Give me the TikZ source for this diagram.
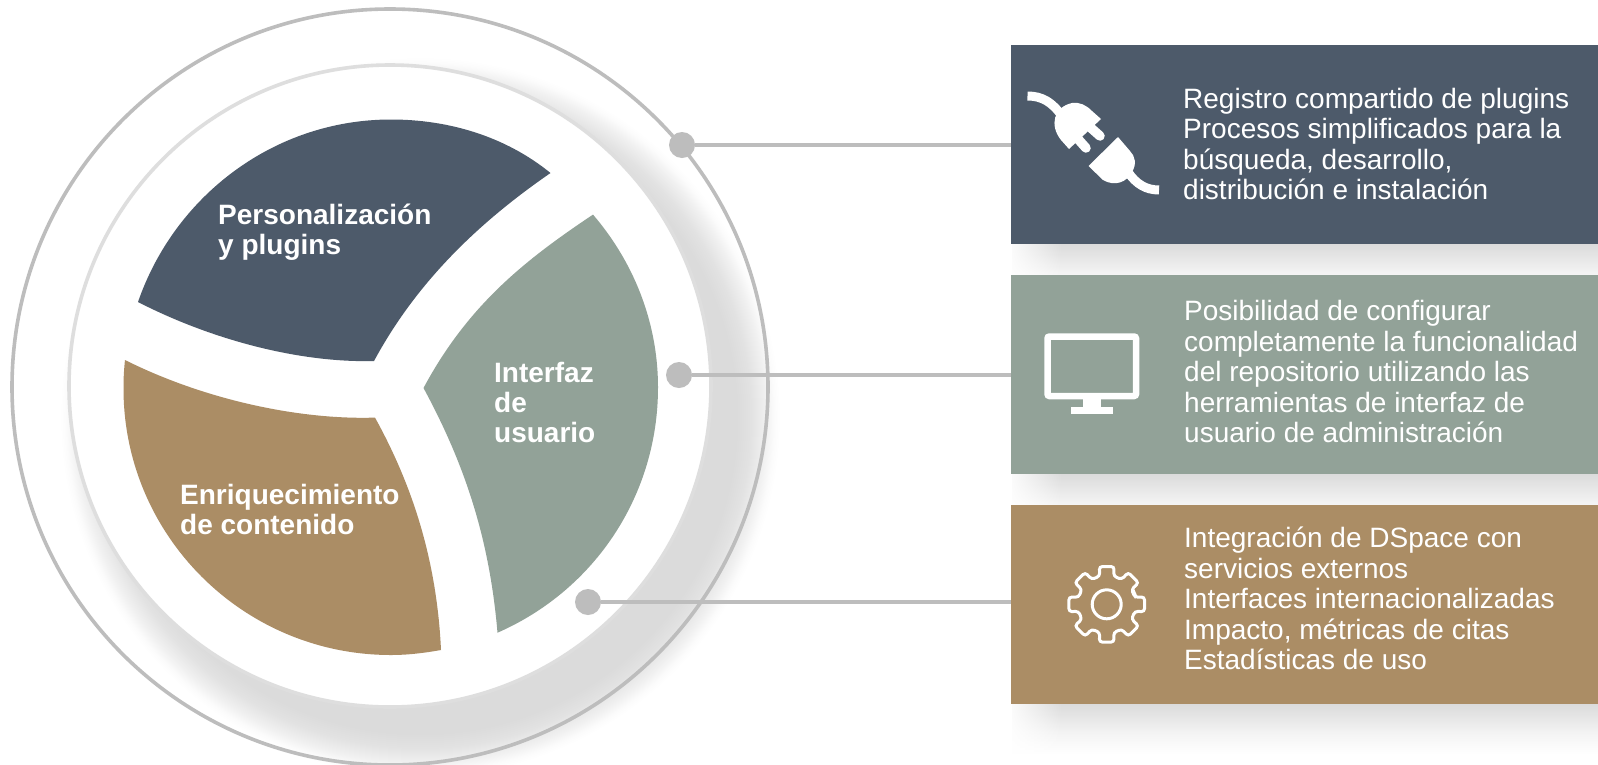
\documentclass[tikz,border=0pt]{standalone}
\usepackage{fontspec}
\setmainfont{Liberation Sans}
\usetikzlibrary{fadings}
\definecolor{navy}{HTML}{4D5A6A}
\definecolor{sage}{HTML}{92A298}
\definecolor{tan}{HTML}{AB8D65}
\definecolor{ringA}{HTML}{BDBDBD}
\definecolor{ringB}{HTML}{DEDEDE}
\definecolor{shadowC}{HTML}{DBDBDB}
\pgfdeclareradialshading{discshadow}{\pgfpointorigin}{%
  color(0bp)=(shadowC);color(22bp)=(shadowC);color(23bp)=(shadowC!80!white);
  color(24bp)=(shadowC!40!white);color(24.6bp)=(shadowC!10!white);color(25bp)=(white);color(50bp)=(white)}
\pgfdeclareverticalshading{boxshadow}{100bp}{%
  color(0bp)=(white);color(25bp)=(white);color(45bp)=(shadowC!30!white);color(75bp)=(shadowC);color(100bp)=(shadowC)}
\tikzset{
  bx/.style={rectangle,minimum width=587pt,minimum height=199pt,inner sep=0pt,outer sep=0pt,anchor=north west},
  segment/.style={rectangle,inner sep=0pt,anchor=base west,font=\fontsize{28}{29.8}\selectfont\bfseries,text=white,align=left},
  boxtext/.style={inner sep=0pt,anchor=north west,font=\fontsize{28}{30.4}\selectfont,text=white,align=left},
  dot/.style={circle,fill=ringA,minimum size=26pt,inner sep=0pt,outer sep=0pt},
  conn/.style={draw=ringA,line width=3.2pt},
  ico/.style={fill=white,draw=none},
  icoline/.style={draw=white,fill=none}
}
\begin{document}
\begin{tikzpicture}[x=1pt,y=-1pt]
\clip (0,0) rectangle (1598,764);
\fill[white] (0,0) rectangle (1598,764);
% disc shadow
\shade[shading=discshadow] (420,417) circle (360);
% box shadows
\foreach \t in {244,474,704}{
  \shade[shading=boxshadow] (1012,\t) rectangle (1598,\t+50);
  \fill[white,path fading=east] (1005,\t) rectangle (1062,\t+50);
}
% rings
\draw[ringA,line width=3.6pt] (390,387) circle (378);
\fill[white] (390,386) circle (321);
\draw[ringB,line width=3.6pt] (390,386) circle (321);
% segments
\fill[navy] (138,302) .. controls (212,340) and (300,363) .. (374,361) .. controls (415,285) and (475,225) .. (550.5,173)
  .. controls (505,136) and (448,119.5) .. (391,119.5) .. controls (275,119.5) and (175,195) .. (138,302) -- cycle;
\fill[sage] (423.5,388) .. controls (468,305) and (525,260) .. (593,214.6)
  .. controls (632,260) and (658,320) .. (658,387.5) .. controls (658,495) and (595,590) .. (497.5,632.7)
  .. controls (490,545) and (468,470) .. (423.5,388) -- cycle;
\fill[tan] (125,360) .. controls (205,400) and (300,420) .. (375,417.6)
  .. controls (415,490) and (437,565) .. (441,650)
  .. controls (424,653) and (408,655) .. (391,655) .. controls (243,655) and (123,535) .. (123.5,387.5) .. controls (123.5,378) and (124,369) .. (125,360) -- cycle;
% segment labels
\node[segment] (lbla) at (218,254) {Personalización\\y plugins};
\node[segment] (lblb) at (494,442) {Interfaz\\de\\usuario};
\node[segment] (lblc) at (180,534) {Enriquecimiento\\de contenido};
% boxes
\node[bx,fill=navy] (box1) at (1011,45) {};
\node[bx,fill=sage] (box2) at (1011,275) {};
\node[bx,fill=tan] (box3) at (1011,505) {};
% dots and connectors
\node[dot] (d1) at (682,145) {};
\node[dot] (d2) at (679,375) {};
\node[dot] (d3) at (588,602) {};
\draw[conn] (d1) -- (d1 -| box1.west);
\draw[conn] (d2) -- (d2 -| box2.west);
\draw[conn] (d3) -- (d3 -| box3.west);
% box texts
\node[boxtext] (t1) at (1183,88) {Registro compartido de plugins\\Procesos simplificados para la\\búsqueda, desarrollo,\\distribución e instalación};
\node[boxtext] (t2) at (1184,300.5) {Posibilidad de configurar\\completamente la funcionalidad\\del repositorio utilizando las\\herramientas de interfaz de\\usuario de administración};
\node[boxtext] (t3) at (1184,527) {Integración de DSpace con\\servicios externos\\Interfaces internacionalizadas\\Impacto, métricas de citas\\Estadísticas de uso};
% plug icon
\draw[icoline,line width=9pt] (1027.5,96) .. controls (1042,96) and (1052,102) .. (1062,116);
\fill[ico] (1101,119) -- (1069,149) -- (1061,140) .. controls (1049,125) and (1054,107) .. (1072,103) .. controls (1080,102) and (1086,105) .. (1092,111) -- cycle;
\draw[icoline,line width=9.5pt,line cap=round] (1091,128) -- (1100,136);
\draw[icoline,line width=9.5pt,line cap=round] (1078,139) -- (1086,148);
\fill[ico] (1118,137) -- (1088.5,166) -- (1103,180) .. controls (1115,187) and (1127,182) .. (1132,172) .. controls (1137,164) and (1135,156) .. (1130,151) -- cycle;
\draw[icoline,line width=9pt] (1128,172) .. controls (1136,184) and (1146,190) .. (1159,190);
% monitor icon
\draw[icoline,line width=6.5pt,rounded corners=2pt] (1047.5,336.5) rectangle (1136,396);
\fill[ico] (1082.7,398) rectangle (1101,407);
\fill[ico] (1070.7,406.7) rectangle (1113,413.7);
% gear icon
\coordinate (g) at (1106.7,604.3);
\draw[icoline,line width=3pt,rounded corners=3pt]
  ([shift={(g)}]-14:29) \foreach \a in {0,45,...,315}{
    -- ([shift={(g)}]\a-14:29) -- ([shift={(g)}]\a-11:38.5) -- ([shift={(g)}]\a+11:38.5) -- ([shift={(g)}]\a+14:29)
  } -- cycle;
\draw[icoline,line width=3pt] (g) circle (14.5);
\end{tikzpicture}
\end{document}
